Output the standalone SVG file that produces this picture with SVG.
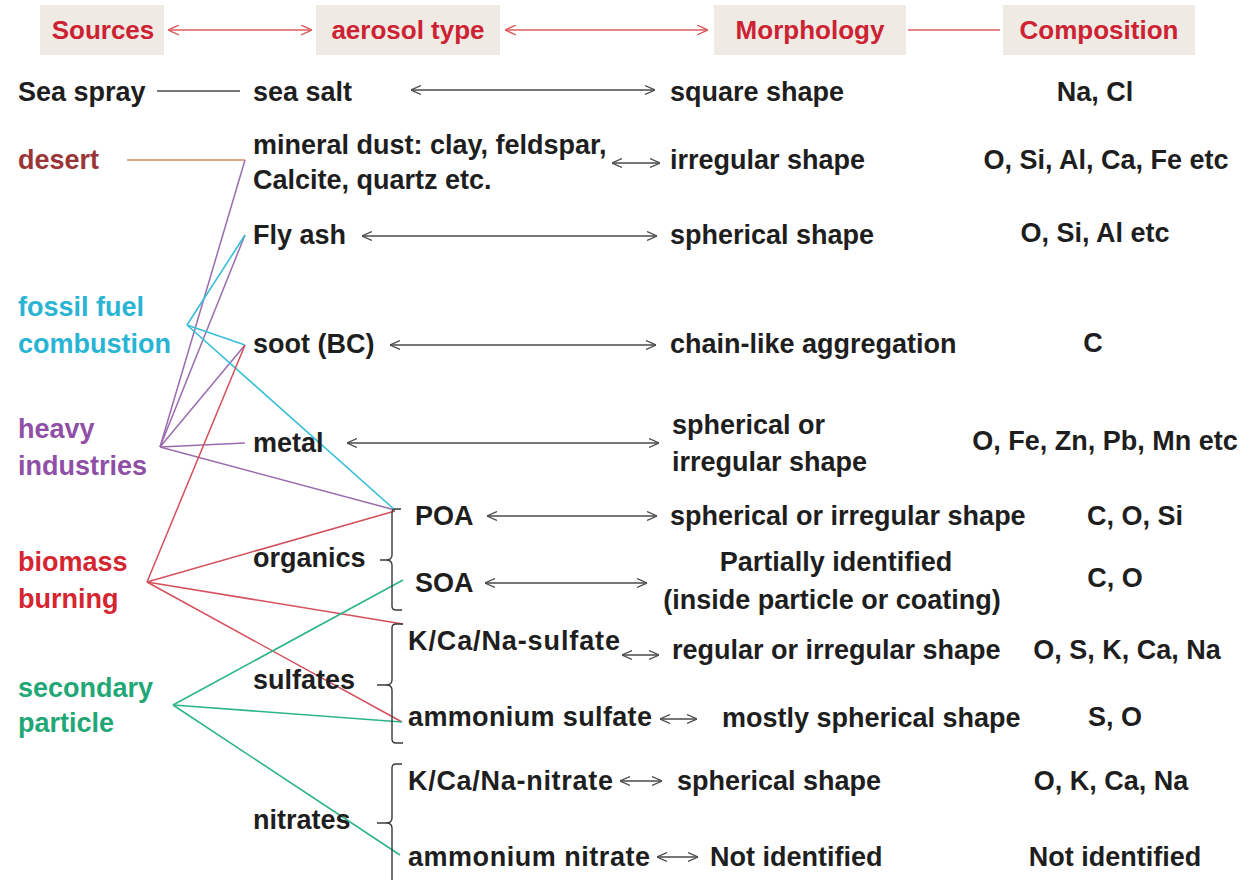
<svg xmlns="http://www.w3.org/2000/svg" width="1255" height="880" viewBox="0 0 1255 880">
<defs>
<marker id="ah" viewBox="0 0 10 10" refX="10" refY="5" markerWidth="10" markerHeight="10" markerUnits="userSpaceOnUse" orient="auto-start-reverse">
<path d="M0,0.5 L10,5 L0,9.5" fill="none" stroke="#4a4a4a" stroke-width="1.2"/>
</marker>
<marker id="ahr" viewBox="0 0 10 10" refX="10" refY="5" markerWidth="11" markerHeight="11" markerUnits="userSpaceOnUse" orient="auto-start-reverse">
<path d="M0,0.5 L10,5 L0,9.5" fill="none" stroke="#dc5a5f" stroke-width="1.3"/>
</marker>
<style>
text{font-family:"Liberation Sans",Arial,sans-serif;font-weight:bold;font-size:27px;fill:#1e1e1e}
.hdr{fill:#cc2233;text-anchor:middle;font-size:26px}
.hbox{fill:#efeae4}
.mid{text-anchor:middle}
.desert{fill:#9a3436}
.fossil{fill:#2ab4d4}
.heavy{fill:#8f4fa6}
.biomass{fill:#d42530}
.second{fill:#1fa776}
.arr{stroke:#4a4a4a;stroke-width:1.3;fill:none;marker-start:url(#ah);marker-end:url(#ah)}
.harr{stroke:#dc5a5f;stroke-width:1.5;fill:none;marker-start:url(#ahr);marker-end:url(#ahr)}
.hline{stroke:#dc5a5f;stroke-width:1.5}
.l-desert{stroke:#d08a60;stroke-width:1.5;fill:none}
.l-heavy{stroke:#9a6cae;stroke-width:1.5;fill:none}
.l-fossil{stroke:#38bfd8;stroke-width:1.6;fill:none}
.l-bio{stroke:#d4505c;stroke-width:1.5;fill:none}
.l-sec{stroke:#2db58a;stroke-width:1.6;fill:none}
.l-gray{stroke:#4a4a4a;stroke-width:1.4;fill:none}
.brace{stroke:#3a3a3a;stroke-width:1.4;fill:none}
</style>
</defs>
<rect width="1255" height="880" fill="#ffffff"/>

<g id="header">
<g id="h-sources"><rect class="hbox" x="40" y="5" width="124" height="50"/><text class="hdr" x="103" y="39">Sources</text></g>
<g id="h-aerosol"><rect class="hbox" x="316" y="5" width="184" height="50"/><text class="hdr" x="408" y="39">aerosol type</text></g>
<g id="h-morph"><rect class="hbox" x="714" y="5" width="192" height="50"/><text class="hdr" x="810" y="39">Morphology</text></g>
<g id="h-comp"><rect class="hbox" x="1003" y="5" width="192" height="50"/><text class="hdr" x="1099" y="39">Composition</text></g>
</g>

<g id="connectors">
<line class="harr" x1="168" y1="30" x2="312" y2="30"/>
<line class="harr" x1="505" y1="30" x2="708" y2="30"/>
<line class="hline" x1="908" y1="30" x2="1000" y2="30"/>

<line class="l-gray" x1="157" y1="91" x2="240" y2="91"/>
<line class="l-desert" x1="127" y1="160" x2="245" y2="160"/>

<g class="l-heavy">
<line x1="160" y1="447" x2="245" y2="160"/>
<line x1="160" y1="447" x2="245" y2="235"/>
<line x1="160" y1="447" x2="245" y2="345"/>
<line x1="160" y1="447" x2="245" y2="443"/>
<line x1="160" y1="447" x2="395" y2="510"/>
</g>
<g class="l-fossil">
<line x1="187" y1="325" x2="245" y2="235"/>
<line x1="187" y1="325" x2="245" y2="345"/>
<line x1="187" y1="325" x2="395" y2="510"/>
</g>
<g class="l-bio">
<line x1="147" y1="582" x2="245" y2="345"/>
<line x1="147" y1="582" x2="395" y2="511"/>
<line x1="147" y1="582" x2="403" y2="624"/>
<line x1="147" y1="582" x2="402" y2="722"/>
</g>
<g class="l-sec">
<line x1="173" y1="705" x2="403" y2="580"/>
<line x1="173" y1="705" x2="402" y2="722"/>
<line x1="173" y1="705" x2="400" y2="855"/>
</g>

<path class="brace" d="M401,509 L395,509 Q392,509 392,513 L392,555 Q392,560 386,560 L380,560 M386,560 Q392,560 392,565 L392,606 Q392,610 396,610 L402,610"/>
<path class="brace" d="M403,624 L396,624 Q392,624 392,628 L392,680 Q392,685 386,685 L377,685 M386,685 Q392,685 392,690 L392,739 Q392,743 396,743 L403,743"/>
<path class="brace" d="M402,764 L396,764 Q392,764 392,768 L392,818 Q392,823 386,823 L377,823 M386,823 Q392,823 392,828 L392,890"/>

<line class="arr" x1="411" y1="90" x2="655" y2="90"/>
<line class="arr" x1="612" y1="163" x2="660" y2="163"/>
<line class="arr" x1="362" y1="236" x2="657" y2="236"/>
<line class="arr" x1="390" y1="345" x2="656" y2="345"/>
<line class="arr" x1="347" y1="443" x2="659" y2="443"/>
<line class="arr" x1="487" y1="516" x2="657" y2="516"/>
<line class="arr" x1="485" y1="583" x2="647" y2="583"/>
<line class="arr" x1="622" y1="655" x2="659" y2="655"/>
<line class="arr" x1="660" y1="719" x2="697" y2="719"/>
<line class="arr" x1="620" y1="781" x2="662" y2="781"/>
<line class="arr" x1="657" y1="857" x2="698" y2="857"/>
</g>

<g id="sources">
<g id="src-sea"><text x="18" y="101">Sea spray</text></g>
<g id="src-desert"><text class="desert" x="18" y="169">desert</text></g>
<g id="src-fossil"><text class="fossil" x="18" y="316">fossil fuel</text><text class="fossil" x="18" y="353">combustion</text></g>
<g id="src-heavy"><text class="heavy" x="18" y="438">heavy</text><text class="heavy" x="18" y="475">industries</text></g>
<g id="src-biomass"><text class="biomass" x="18" y="571">biomass</text><text class="biomass" x="18" y="608">burning</text></g>
<g id="src-secondary"><text class="second" x="18" y="697">secondary</text><text class="second" x="18" y="732">particle</text></g>
</g>

<g id="types">
<g id="t-seasalt"><text x="253" y="101">sea salt</text></g>
<g id="t-mineral"><text x="253" y="154">mineral dust: clay, feldspar,</text><text x="253" y="189">Calcite, quartz etc.</text></g>
<g id="t-flyash"><text x="253" y="244">Fly ash</text></g>
<g id="t-soot"><text x="253" y="353">soot (BC)</text></g>
<g id="t-metal"><text x="253" y="452">metal</text></g>
<g id="t-organics"><text x="253" y="567">organics</text></g>
<g id="t-poa"><text x="415" y="525">POA</text></g>
<g id="t-soa"><text x="415" y="592">SOA</text></g>
<g id="t-sulfates"><text x="253" y="689">sulfates</text></g>
<g id="t-kcas"><text x="408" y="650" textLength="212">K/Ca/Na-sulfate</text></g>
<g id="t-amms"><text x="408" y="726" textLength="244">ammonium sulfate</text></g>
<g id="t-nitrates"><text x="253" y="829">nitrates</text></g>
<g id="t-kcan"><text x="408" y="790" textLength="205">K/Ca/Na-nitrate</text></g>
<g id="t-ammn"><text x="408" y="866" textLength="242">ammonium nitrate</text></g>
</g>

<g id="morphology">
<g id="m1"><text x="670" y="101">square shape</text></g>
<g id="m2"><text x="670" y="169">irregular shape</text></g>
<g id="m3"><text x="670" y="244">spherical shape</text></g>
<g id="m4"><text x="670" y="353">chain-like aggregation</text></g>
<g id="m5"><text x="672" y="434">spherical or</text><text x="672" y="471">irregular shape</text></g>
<g id="m6"><text x="670" y="525">spherical or irregular shape</text></g>
<g id="m7"><text class="mid" x="836" y="571">Partially identified</text><text class="mid" x="832" y="609">(inside particle or coating)</text></g>
<g id="m8"><text x="672" y="659">regular or irregular shape</text></g>
<g id="m9"><text x="722" y="727">mostly spherical shape</text></g>
<g id="m10"><text x="677" y="790">spherical shape</text></g>
<g id="m11"><text x="710" y="866">Not identified</text></g>
</g>

<g id="composition">
<g id="c1"><text class="mid" x="1095" y="101">Na, Cl</text></g>
<g id="c2"><text class="mid" x="1106" y="169">O, Si, Al, Ca, Fe etc</text></g>
<g id="c3"><text class="mid" x="1095" y="242">O, Si, Al etc</text></g>
<g id="c4"><text class="mid" x="1093" y="352">C</text></g>
<g id="c5"><text class="mid" x="1105" y="450">O, Fe, Zn, Pb, Mn etc</text></g>
<g id="c6"><text class="mid" x="1135" y="525">C, O, Si</text></g>
<g id="c7"><text class="mid" x="1115" y="587">C, O</text></g>
<g id="c8"><text class="mid" x="1127" y="659">O, S, K, Ca, Na</text></g>
<g id="c9"><text class="mid" x="1115" y="726">S, O</text></g>
<g id="c10"><text class="mid" x="1111" y="790">O, K, Ca, Na</text></g>
<g id="c11"><text class="mid" x="1115" y="866">Not identified</text></g>
</g>
</svg>
